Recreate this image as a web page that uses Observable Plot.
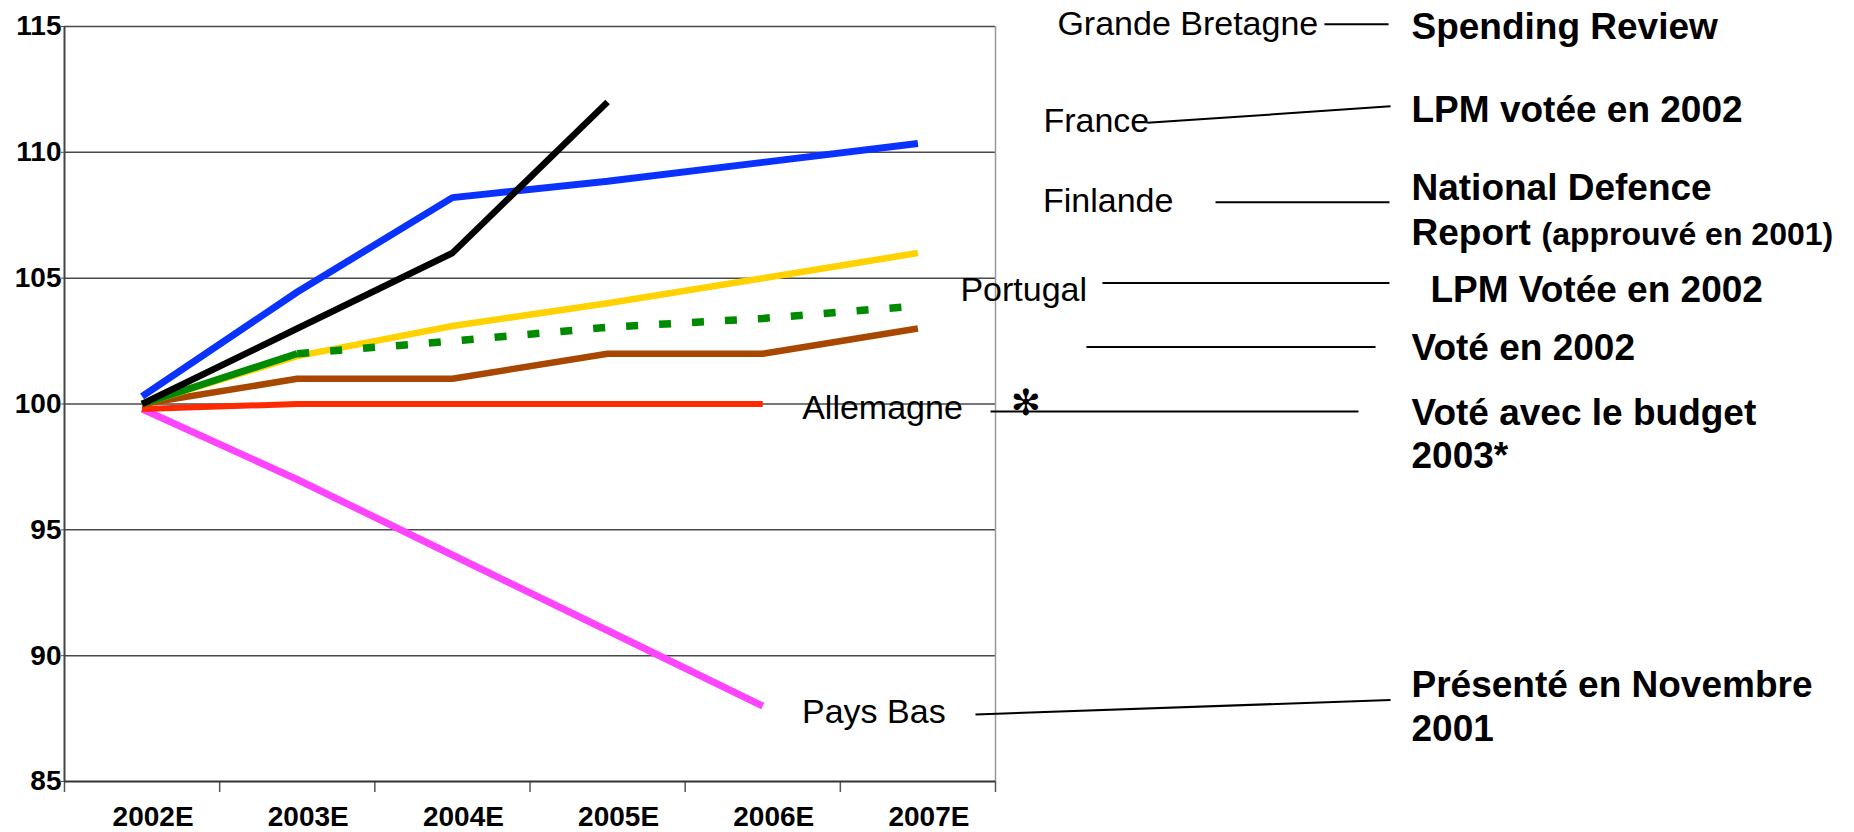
<!DOCTYPE html>
<html>
<head>
<meta charset="utf-8">
<script src="https://cdn.jsdelivr.net/npm/d3@7"></script>
<script src="https://cdn.jsdelivr.net/npm/@observablehq/plot@0.6"></script>
<style>
  html, body { margin: 0; padding: 0; background: #ffffff; }
  #chart svg { display: block; }
</style>
</head>
<body>
<div id="chart"></div>
<script>
// ---------- data ----------
const years = ["2002E", "2003E", "2004E", "2005E", "2006E", "2007E"];
const grandeBretagne = [100, 103, 106, 112, null, null];
const france = [100.3, 104.45, 108.2, 108.85, 109.6, 110.35];
const finlande = [100, 101.9, 103.1, 104, 105, 106];
const portugal = [100, 102, 102.5, 103.05, 103.4, 103.9];
const voteEn2002 = [100, 101, 101, 102, 102, 103];
const allemagne = [99.8, 100, 100, 100, 100, null];
const paysBas = [99.8, 97, 94, 91, 88, null];
const yTicks = [85, 90, 95, 100, 105, 110, 115];

const countryLabels = ["Grande Bretagne", "France", "Finlande", "Portugal", "Allemagne", "Pays Bas"];
const noteTexts = ["Spending Review", "LPM votée en 2002", "National Defence", "Report",
  "LPM Votée en 2002", "Voté en 2002", "Voté avec le budget", "2003*", "Présenté en Novembre", "2001"];
const noteSmall = ["(approuvé en 2001)"];
const footnoteMark = ["✻"];

// ---------- layout (data units: x = year index, y = index value) ----------
const countryPos = [[5.899, 115.10], [5.809, 111.23], [5.806, 108.05], [5.274, 104.52], [4.254, 99.845], [4.253, 87.743]];
const notePos = [[8.181, 114.99], [8.181, 111.67], [8.181, 108.57], [8.181, 106.78],
  [8.303, 104.52], [8.181, 102.21], [8.181, 99.646], [8.181, 97.917], [8.181, 88.816], [8.181, 87.067]];
const noteSmallPos = [[9.019, 106.72]];
const markPos = [[5.696, 100.02]];
const connectors = [
  [7.620, 115.087, 8.033, 115.087],
  [6.479, 111.172, 8.046, 111.828],
  [6.918, 108.013, 8.039, 108.013],
  [6.189, 104.805, 8.039, 104.805],
  [6.086, 102.262, 7.949, 102.262],
  [5.468, 99.706, 7.839, 99.706],
  [5.371, 87.663, 8.046, 88.239]
];

// ---------- build tables ----------
const series = [
  {name: "Pays Bas", values: paysBas, color: "#ff44ff", width: 7},
  {name: "Allemagne", values: allemagne, color: "#ff2a00", width: 6},
  {name: "Voté en 2002", values: voteEn2002, color: "#a84800", width: 6.5},
  {name: "Finlande", values: finlande, color: "#ffd200", width: 6.5},
  {name: "France", values: france, color: "#0a32ff", width: 7},
  {name: "Grande Bretagne", values: grandeBretagne, color: "#000000", width: 6.5}
];
const rowsOf = (values) => values.map((v, i) => ({i, v})).filter(d => d.v != null);
const portugalRows = rowsOf(portugal);

const countryRows = countryLabels.map((t, k) => ({t, x: countryPos[k][0], y: countryPos[k][1]}));
const noteRows = noteTexts.map((t, k) => ({t, x: notePos[k][0], y: notePos[k][1]}));
const noteSmallRows = noteSmall.map((t, k) => ({t, x: noteSmallPos[k][0], y: noteSmallPos[k][1]}));
const markRows = footnoteMark.map((t, k) => ({t, x: markPos[k][0], y: markPos[k][1]}));
const linkRows = connectors.map(([x1, y1, x2, y2]) => ({x1, y1, x2, y2}));

const FONT = "'Liberation Sans', Arial, Helvetica, sans-serif";
const bounds = d3.range(0, 7).map(k => k - 0.5);

const lineMarks = series.map(s => Plot.line(rowsOf(s.values), {
  x: "i", y: "v", stroke: s.color, strokeWidth: s.width,
  strokeLinecap: "butt", strokeLinejoin: "miter"
}));

const chart = Plot.plot({
  width: 1854,
  height: 832,
  marginLeft: 64,
  marginRight: 859,
  marginTop: 26,
  marginBottom: 51,
  style: {fontFamily: FONT, background: "#ffffff", color: "black"},
  x: {type: "linear", domain: [-0.5, 5.5], label: null},
  y: {domain: [85, 115], label: null},
  marks: [
    // grid & frame
    Plot.ruleY(yTicks.filter(v => v !== 85), {stroke: "#4a4a4a", strokeWidth: 1.5}),
    Plot.ruleX([5.5], {stroke: "#999", strokeWidth: 1.5}),
    Plot.axisX({ticks: bounds, tickSize: 11, tickFormat: () => "", stroke: "#555", strokeWidth: 1.5, label: null}),
    Plot.axisX({ticks: d3.range(years.length), tickFormat: i => years[i], tickSize: 0, tickPadding: 25,
      fontSize: 28, fontWeight: "bold", fill: "black", dx: 11, label: null}),
    Plot.axisY({ticks: yTicks, tickSize: 3, tickPadding: 0, tickFormat: d => String(d),
      fontSize: 28, fontWeight: "bold", fill: "black", stroke: "#555", label: null}),
    Plot.ruleY([85], {stroke: "#333", strokeWidth: 2}),
    Plot.ruleX([-0.5], {stroke: "#444", strokeWidth: 2}),
    // series
    ...lineMarks.slice(0, 4),
    Plot.line(portugalRows.filter(d => d.i <= 1), {x: "i", y: "v", stroke: "#008a00", strokeWidth: 7,
      strokeLinecap: "butt", strokeLinejoin: "miter"}),
    Plot.line(portugalRows.filter(d => d.i >= 1), {x: "i", y: "v", stroke: "#008a00", strokeWidth: 7.5,
      strokeDasharray: "12,21", strokeLinecap: "butt"}),
    ...lineMarks.slice(4),
    // annotations
    Plot.link(linkRows, {x1: "x1", y1: "y1", x2: "x2", y2: "y2", stroke: "black", strokeWidth: 2}),
    Plot.text(countryRows, {x: "x", y: "y", text: "t", textAnchor: "start", lineAnchor: "middle",
      fontSize: 34, fontWeight: "normal", fill: "black"}),
    Plot.text(noteRows, {x: "x", y: "y", text: "t", textAnchor: "start", lineAnchor: "middle",
      fontSize: 37, fontWeight: "bold", fill: "black"}),
    Plot.text(noteSmallRows, {x: "x", y: "y", text: "t", textAnchor: "start", lineAnchor: "middle",
      fontSize: 32, fontWeight: "bold", fill: "black"}),
    Plot.text(markRows, {x: "x", y: "y", text: "t", textAnchor: "middle", lineAnchor: "middle",
      fontSize: 36, fontFamily: "'DejaVu Sans', sans-serif", fill: "black"})
  ]
});

document.getElementById("chart").appendChild(chart);
</script>
</body>
</html>
